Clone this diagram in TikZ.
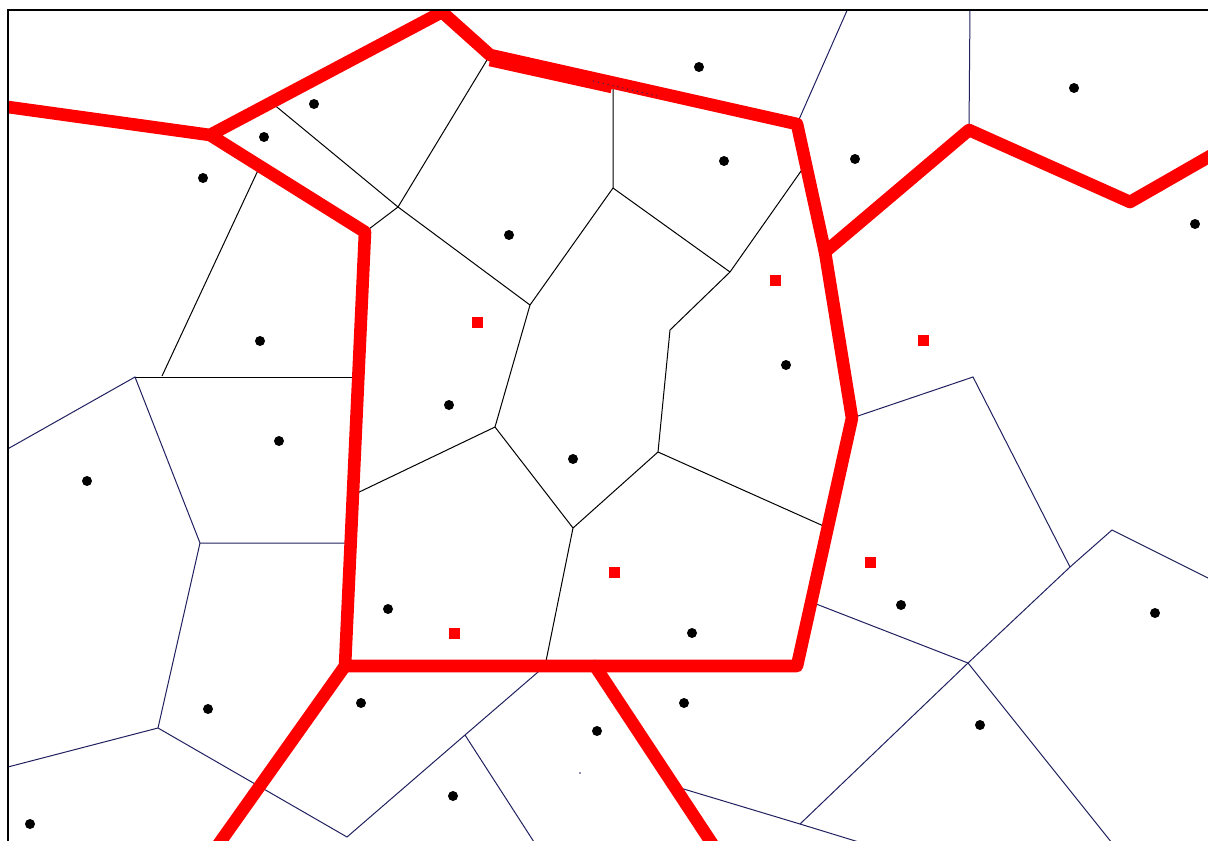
\documentclass[tikz,border=0pt]{standalone}
\usepackage{tikz}
\definecolor{cellnavy}{RGB}{32,32,96}
\tikzset{
  borderline/.style={draw=red,line width=6.3pt,line join=round,line cap=round},
  innerline/.style={draw=black,line width=0.5pt},
  outerline/.style={draw=cellnavy,line width=0.5pt},
  sitedot/.style={circle,fill=black,inner sep=0pt,minimum size=5pt},
  redsite/.style={rectangle,fill=red,inner sep=0pt,minimum size=5.5pt},
  framerule/.style={draw=black,line width=1pt}
}

\begin{document}
\begin{tikzpicture}[x=0.5pt,y=-0.5pt]
  \useasboundingbox (0,0) rectangle (1208,840);
  % red boundary vertices
  \coordinate (rL) at (8,107);
  \coordinate (rJ) at (210,135);
  \coordinate (rT) at (442,12);
  \coordinate (rA) at (490,55);
  \coordinate (rB) at (797,124);
  \coordinate (rC) at (825,252);
  \coordinate (rD) at (852,418);
  \coordinate (rE) at (797,666);
  \coordinate (rF) at (595,666);
  \coordinate (rG) at (345,666);
  \coordinate (rH) at (365,232);
  \coordinate (rI) at (969,130);
  \coordinate (rK) at (1130,202);
  \coordinate (rR) at (1212,155);
  \coordinate (rBL) at (218,845);
  \coordinate (rBR) at (713,845);
  % cell vertices
  \coordinate (v1) at (260,166);
  \coordinate (v2) at (162,376);
  \coordinate (v3) at (135,377);
  \coordinate (v4) at (358,377);
  \coordinate (v5) at (272,103);
  \coordinate (v6) at (398,207);
  \coordinate (v7) at (530,305);
  \coordinate (v10) at (613,83);
  \coordinate (v11) at (613,188);
  \coordinate (v12) at (730,272);
  \coordinate (v13) at (806,164);
  \coordinate (v14) at (670,330);
  \coordinate (v15) at (658,452);
  \coordinate (v16) at (828,528);
  \coordinate (v17) at (573,528);
  \coordinate (v18) at (545,666);
  \coordinate (v19) at (495,427);
  \coordinate (v20) at (353,495);
  \coordinate (v21) at (4,451);
  \coordinate (v22) at (200,543);
  \coordinate (v23) at (351,543);
  \coordinate (v24) at (158,728);
  \coordinate (v25) at (4,768);
  \coordinate (v26) at (347,837);
  \coordinate (v27) at (465,735);
  \coordinate (v29) at (534,842);
  \coordinate (v30) at (677,787);
  \coordinate (v31) at (800,824);
  \coordinate (v32) at (862,843);
  \coordinate (v33) at (968,663);
  \coordinate (v34) at (1070,567);
  \coordinate (v35) at (811,602);
  \coordinate (v36) at (1112,843);
  \coordinate (v37) at (1112,530);
  \coordinate (v38) at (1212,580);
  \coordinate (v39) at (973,377);
  \coordinate (v41) at (849,6);
  \coordinate (v43) at (970,6);

  \begin{scope}
    \clip (8,10) rectangle (1208,840);
    % inner cells
    \draw[innerline] (v1) -- (v2);
    \draw[innerline] (v3) -- (v4);
    \draw[innerline] (v5) -- (v6) -- (v7);
    \draw[innerline] (rH) -- (v6) -- (rA);
    \draw[innerline] (v10) -- (v11) -- (v12);
    \draw[innerline] (v11) -- (v7);
    \draw[innerline] (v13) -- (v12) -- (v14) -- (v15) -- (v16);
    \draw[innerline] (v15) -- (v17) -- (v18);
    \draw[innerline] (v17) -- (v19) -- (v7);
    \draw[innerline] (v19) -- (v20);
    % outer cells
    \draw[outerline] (v21) -- (v3) -- (v22) -- (v23);
    \draw[outerline] (v22) -- (v24) -- (v25);
    \draw[outerline] (v24) -- (v26) -- (v27) -- (v18);
    \draw[outerline] (v27) -- (v29);
    \draw[outerline] (v30) -- (v31) -- (v32);
    \draw[outerline] (v31) -- (v33) -- (v34) -- (v37) -- (v38);
    \draw[outerline] (v35) -- (v33) -- (v36);
    \draw[outerline] (rD) -- (v39) -- (v34);
    \draw[outerline] (v41) -- (rB);
    \draw[outerline] (v43) -- (rI);
    % red boundary
    \draw[borderline] (rL) -- (rJ) -- (rT) -- (rA) -- (rB) -- (rC) -- (rD) -- (rE) -- (rF) -- (rG) -- (rH) -- (rJ);
    \draw[borderline,line cap=butt] (490,60) -- (612,87);
    \draw[borderline] (rC) -- (rI) -- (rK) -- (rR);
    \draw[borderline] (rG) -- (rBL);
    \draw[borderline] (rF) -- (rBR);
    \draw[outerline,dotted] (593,81) -- (657,96);
  \end{scope}

  % sites
  \node[sitedot] (s1) at (314,104) {};
  \node[sitedot] (s2) at (264,137) {};
  \node[sitedot] (s3) at (203,178) {};
  \node[sitedot] (s4) at (260,341) {};
  \node[sitedot] (s5) at (279,441) {};
  \node[sitedot] (s6) at (87,481) {};
  \node[sitedot] (s7) at (509,235) {};
  \node[sitedot] (s8) at (699,67) {};
  \node[sitedot] (s9) at (724,161) {};
  \node[sitedot] (s10) at (855,159) {};
  \node[sitedot] (s11) at (1074,88) {};
  \node[sitedot] (s12) at (1195,224) {};
  \node[sitedot] (s13) at (786,365) {};
  \node[sitedot] (s14) at (449,405) {};
  \node[sitedot] (s15) at (573,459) {};
  \node[sitedot] (s16) at (388,609) {};
  \node[sitedot] (s17) at (692,633) {};
  \node[sitedot] (s18) at (901,605) {};
  \node[sitedot] (s19) at (1155,613) {};
  \node[sitedot] (s20) at (980,725) {};
  \node[sitedot] (s21) at (361,703) {};
  \node[sitedot] (s22) at (208,709) {};
  \node[sitedot] (s23) at (684,703) {};
  \node[sitedot] (s24) at (597,731) {};
  \node[sitedot] (s25) at (453,796) {};
  \node[sitedot] (s26) at (30,824) {};
  \node[circle,fill=cellnavy,inner sep=0pt,minimum size=0.8pt] (speck) at (580,773) {};
  % red sites
  \node[redsite] (q1) at (477,322) {};
  \node[redsite] (q2) at (775,280) {};
  \node[redsite] (q3) at (923,340) {};
  \node[redsite] (q4) at (614,572) {};
  \node[redsite] (q5) at (454,633) {};
  \node[redsite] (q6) at (870,562) {};

  % frame
  \draw[framerule] (8,841) -- (8,10) -- (1209,10);
\end{tikzpicture}
\end{document}
